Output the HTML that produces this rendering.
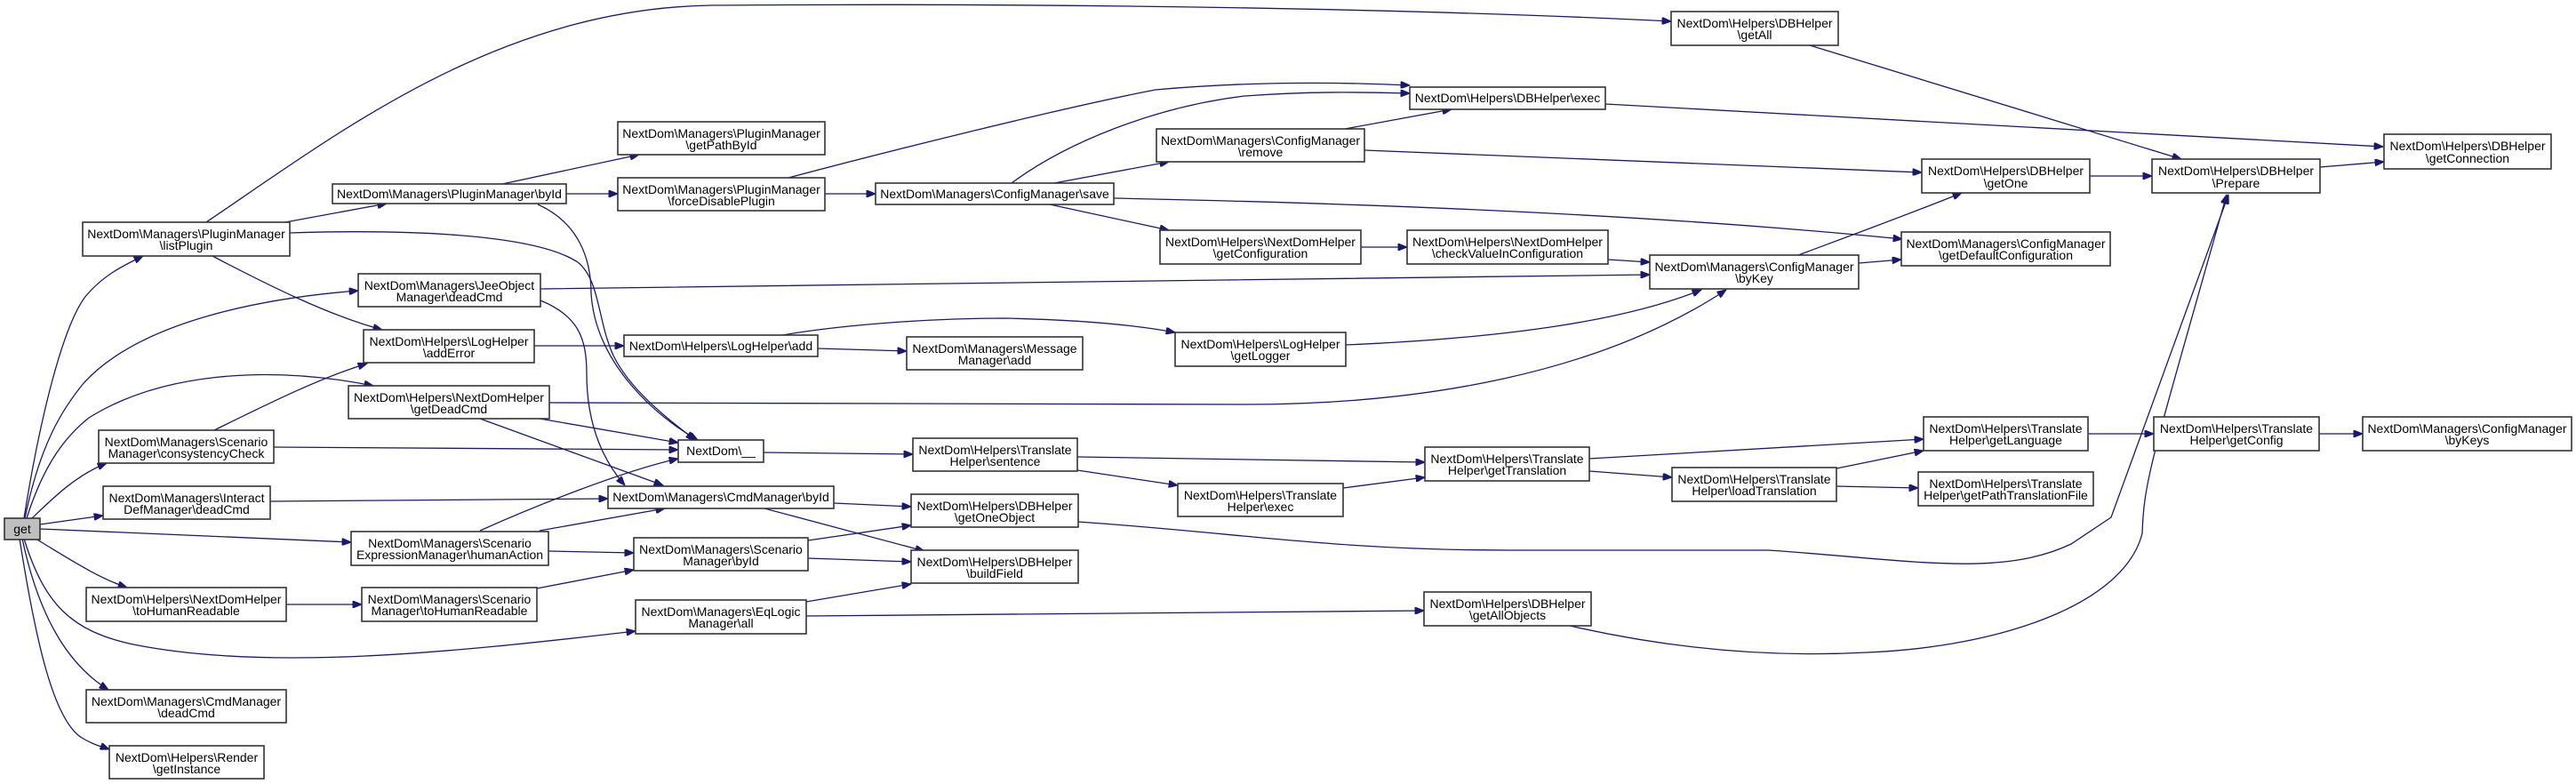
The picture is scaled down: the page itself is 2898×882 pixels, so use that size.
<!DOCTYPE html>
<html><head><meta charset="utf-8"><style>
html,body{margin:0;padding:0;background:#fff;}
svg{display:block;}
text{font-family:"Liberation Sans",Arial,sans-serif;font-size:14px;fill:#000;text-anchor:middle;}
.b{fill:#fff;stroke:#333;stroke-width:1.6;}
.e{fill:none;stroke:#191970;stroke-width:1.3;}
</style></head><body>
<svg width="2898" height="882" viewBox="0 0 2898 882" xmlns="http://www.w3.org/2000/svg">
<defs><marker id="a" viewBox="0 0 10 8" refX="10" refY="4" markerWidth="11" markerHeight="8" markerUnits="userSpaceOnUse" orient="auto"><path d="M0,0 L10,4 L0,8 Z" fill="#191970" stroke="#191970"/></marker></defs>
<g class="edges" marker-end="url(#a)">
<path class="e" marker-end="url(#a)" d="M27,583 C45,470 70,370 95,335 C115,310 140,298 161,288"/>
<path class="e" marker-end="url(#a)" d="M28,583 C45,500 70,460 95,430 C160,360 300,335 403,327"/>
<path class="e" marker-end="url(#a)" d="M30,583 C50,520 75,490 100,470 C180,420 300,410 420,434"/>
<path class="e" marker-end="url(#a)" d="M36,583 C60,560 85,535 120,521"/>
<path class="e" marker-end="url(#a)" d="M45,590 L116,580"/>
<path class="e" marker-end="url(#a)" d="M45,595 L395,610"/>
<path class="e" marker-end="url(#a)" d="M40,606 C80,630 110,650 143,661"/>
<path class="e" marker-end="url(#a)" d="M27,606 C50,680 80,710 150,725 C300,755 500,735 715,710"/>
<path class="e" marker-end="url(#a)" d="M25,606 C45,700 80,750 122,776"/>
<path class="e" marker-end="url(#a)" d="M22,606 C40,720 60,810 92,830 C105,838 115,840 123,843"/>
<path class="e" marker-end="url(#a)" d="M232,250 C380,150 560,10 800,6 C1200,3 1600,10 1880,24"/>
<path class="e" marker-end="url(#a)" d="M321,250 L435,229"/>
<path class="e" marker-end="url(#a)" d="M326,262 C450,258 600,262 650,295 C675,315 672,360 690,400 C710,440 750,470 782,495"/>
<path class="e" marker-end="url(#a)" d="M239,288 C300,320 370,355 430,371"/>
<path class="e" marker-end="url(#a)" d="M565,207 L719,174"/>
<path class="e" marker-end="url(#a)" d="M637,218 L695,218"/>
<path class="e" marker-end="url(#a)" d="M605,230 C650,250 665,290 665,330 C670,410 740,470 785,495"/>
<path class="e" marker-end="url(#a)" d="M928,218 L985,218"/>
<path class="e" marker-end="url(#a)" d="M887,200 C1000,170 1200,120 1300,101 C1400,92 1500,92 1586,96"/>
<path class="e" marker-end="url(#a)" d="M1138,206 C1200,160 1300,120 1400,108 C1480,102 1540,104 1586,105"/>
<path class="e" marker-end="url(#a)" d="M1186,206 L1315,182"/>
<path class="e" marker-end="url(#a)" d="M1181,230 L1315,259"/>
<path class="e" marker-end="url(#a)" d="M1253,223 C1600,230 1900,245 2140,269"/>
<path class="e" marker-end="url(#a)" d="M1513,145 L1633,123"/>
<path class="e" marker-end="url(#a)" d="M1535,169 L2162,194"/>
<path class="e" marker-end="url(#a)" d="M1806,117 L2681,165"/>
<path class="e" marker-end="url(#a)" d="M2036,51 L2454,179"/>
<path class="e" marker-end="url(#a)" d="M2351,198 L2421,198"/>
<path class="e" marker-end="url(#a)" d="M2610,188 L2682,182"/>
<path class="e" marker-end="url(#a)" d="M1531,278 L1583,278"/>
<path class="e" marker-end="url(#a)" d="M1809,292 L1856,295"/>
<path class="e" marker-end="url(#a)" d="M2023,287 C2090,262 2150,240 2207,217"/>
<path class="e" marker-end="url(#a)" d="M2091,296 L2139,292"/>
<path class="e" marker-end="url(#a)" d="M608,325 C1000,320 1500,313 1856,309"/>
<path class="e" marker-end="url(#a)" d="M608,338 C650,355 660,380 660,420 C660,480 680,520 703,546"/>
<path class="e" marker-end="url(#a)" d="M601,389 L702,389"/>
<path class="e" marker-end="url(#a)" d="M920,392 L1020,395"/>
<path class="e" marker-end="url(#a)" d="M880,377 C950,365 1050,358 1130,358 C1220,360 1280,366 1322,374"/>
<path class="e" marker-end="url(#a)" d="M1514,388 C1700,380 1830,360 1914,326"/>
<path class="e" marker-end="url(#a)" d="M618,453 L1400,455 C1600,455 1800,420 1942,326"/>
<path class="e" marker-end="url(#a)" d="M607,471 L763,498"/>
<path class="e" marker-end="url(#a)" d="M540,471 C620,500 690,525 746,546"/>
<path class="e" marker-end="url(#a)" d="M241,484 C300,455 360,425 413,409"/>
<path class="e" marker-end="url(#a)" d="M308,503 L763,506"/>
<path class="e" marker-end="url(#a)" d="M304,564 L684,561"/>
<path class="e" marker-end="url(#a)" d="M540,597 C600,570 700,530 763,516"/>
<path class="e" marker-end="url(#a)" d="M607,597 L748,572"/>
<path class="e" marker-end="url(#a)" d="M617,620 L713,622"/>
<path class="e" marker-end="url(#a)" d="M322,680 L407,680"/>
<path class="e" marker-end="url(#a)" d="M604,662 L713,641"/>
<path class="e" marker-end="url(#a)" d="M859,509 L1027,511"/>
<path class="e" marker-end="url(#a)" d="M1212,514 L1603,520"/>
<path class="e" marker-end="url(#a)" d="M1212,529 L1325,546"/>
<path class="e" marker-end="url(#a)" d="M1511,549 L1603,537"/>
<path class="e" marker-end="url(#a)" d="M1788,516 L2164,494"/>
<path class="e" marker-end="url(#a)" d="M1788,530 L1881,537"/>
<path class="e" marker-end="url(#a)" d="M2066,527 L2164,507"/>
<path class="e" marker-end="url(#a)" d="M2066,547 L2158,549"/>
<path class="e" marker-end="url(#a)" d="M2349,488 L2423,488"/>
<path class="e" marker-end="url(#a)" d="M2609,488 L2658,488"/>
<path class="e" marker-end="url(#a)" d="M938,566 L1025,570"/>
<path class="e" marker-end="url(#a)" d="M860,572 L1040,620"/>
<path class="e" marker-end="url(#a)" d="M909,608 L1025,591"/>
<path class="e" marker-end="url(#a)" d="M909,628 L1025,632"/>
<path class="e" marker-end="url(#a)" d="M1213,587 C1400,600 1500,619 1700,619 L1990,619 C2150,630 2250,650 2330,612 L2375,582 L2507,219"/>
<path class="e" marker-end="url(#a)" d="M1766,704 C1880,730 1990,740 2100,734 C2250,728 2390,680 2410,600 C2412,540 2420,520 2505,219"/>
<path class="e" marker-end="url(#a)" d="M907,677 L1025,657"/>
<path class="e" marker-end="url(#a)" d="M907,693 L1602,687"/>
</g>
<g>
<rect x="5" y="583" width="40" height="24" fill="#bfbfbf" stroke="#333" stroke-width="1.6"/><text x="25" y="600">get</text>

<rect class="b" x="93" y="250" width="233" height="38"/><text x="209.5" y="268">NextDom\Managers\PluginManager</text><text x="209.5" y="281">\listPlugin</text>
<rect class="b" x="374" y="207" width="263" height="22"/><text x="505.5" y="223">NextDom\Managers\PluginManager\byId</text>
<rect class="b" x="403" y="308" width="205" height="37"/><text x="505.5" y="326">NextDom\Managers\JeeObject</text><text x="505.5" y="339">Manager\deadCmd</text>
<rect class="b" x="409" y="371" width="192" height="37"/><text x="505" y="389">NextDom\Helpers\LogHelper</text><text x="505" y="402">\addError</text>
<rect class="b" x="392" y="434" width="226" height="37"/><text x="505" y="452">NextDom\Helpers\NextDomHelper</text><text x="505" y="465">\getDeadCmd</text>
<rect class="b" x="111" y="484" width="197" height="37"/><text x="209.5" y="502">NextDom\Managers\Scenario</text><text x="209.5" y="515">Manager\consystencyCheck</text>
<rect class="b" x="116" y="547" width="188" height="37"/><text x="210" y="565">NextDom\Managers\Interact</text><text x="210" y="578">DefManager\deadCmd</text>
<rect class="b" x="395" y="598" width="222" height="38"/><text x="506" y="616">NextDom\Managers\Scenario</text><text x="506" y="629">ExpressionManager\humanAction</text>
<rect class="b" x="97" y="661" width="225" height="38"/><text x="209.5" y="679">NextDom\Helpers\NextDomHelper</text><text x="209.5" y="692">\toHumanReadable</text>
<rect class="b" x="407" y="661" width="197" height="38"/><text x="505.5" y="679">NextDom\Managers\Scenario</text><text x="505.5" y="692">Manager\toHumanReadable</text>
<rect class="b" x="97" y="776" width="225" height="37"/><text x="209.5" y="794">NextDom\Managers\CmdManager</text><text x="209.5" y="807">\deadCmd</text>
<rect class="b" x="123" y="839" width="174" height="37"/><text x="210" y="857">NextDom\Helpers\Render</text><text x="210" y="870">\getInstance</text>

<rect class="b" x="695" y="137" width="233" height="37"/><text x="811.5" y="155">NextDom\Managers\PluginManager</text><text x="811.5" y="168">\getPathById</text>
<rect class="b" x="695" y="200" width="233" height="37"/><text x="811.5" y="218">NextDom\Managers\PluginManager</text><text x="811.5" y="231">\forceDisablePlugin</text>
<rect class="b" x="985" y="206" width="268" height="24"/><text x="1119" y="223">NextDom\Managers\ConfigManager\save</text>
<rect class="b" x="702" y="377" width="218" height="24"/><text x="811" y="394">NextDom\Helpers\LogHelper\add</text>
<rect class="b" x="1020" y="379" width="198" height="37"/><text x="1119" y="397">NextDom\Managers\Message</text><text x="1119" y="410">Manager\add</text>
<rect class="b" x="763" y="495" width="96" height="25"/><text x="811" y="512">NextDom\__</text>
<rect class="b" x="1027" y="493" width="185" height="37"/><text x="1119.5" y="511">NextDom\Helpers\Translate</text><text x="1119.5" y="524">Helper\sentence</text>
<rect class="b" x="684" y="547" width="254" height="25"/><text x="811" y="564">NextDom\Managers\CmdManager\byId</text>
<rect class="b" x="1025" y="556" width="188" height="37"/><text x="1119" y="574">NextDom\Helpers\DBHelper</text><text x="1119" y="587">\getOneObject</text>
<rect class="b" x="713" y="605" width="196" height="37"/><text x="811" y="623">NextDom\Managers\Scenario</text><text x="811" y="636">Manager\byId</text>
<rect class="b" x="1025" y="619" width="188" height="37"/><text x="1119" y="637">NextDom\Helpers\DBHelper</text><text x="1119" y="650">\buildField</text>
<rect class="b" x="715" y="675" width="192" height="38"/><text x="811" y="693">NextDom\Managers\EqLogic</text><text x="811" y="706">Manager\all</text>

<rect class="b" x="1880" y="13" width="188" height="38"/><text x="1974" y="31">NextDom\Helpers\DBHelper</text><text x="1974" y="44">\getAll</text>
<rect class="b" x="1586" y="98" width="220" height="25"/><text x="1696" y="115">NextDom\Helpers\DBHelper\exec</text>
<rect class="b" x="1301" y="145" width="234" height="37"/><text x="1418" y="163">NextDom\Managers\ConfigManager</text><text x="1418" y="176">\remove</text>
<rect class="b" x="1305" y="259" width="226" height="38"/><text x="1418" y="277">NextDom\Helpers\NextDomHelper</text><text x="1418" y="290">\getConfiguration</text>
<rect class="b" x="1583" y="259" width="226" height="38"/><text x="1696" y="277">NextDom\Helpers\NextDomHelper</text><text x="1696" y="290">\checkValueInConfiguration</text>
<rect class="b" x="1856" y="287" width="235" height="38"/><text x="1973.5" y="305">NextDom\Managers\ConfigManager</text><text x="1973.5" y="318">\byKey</text>
<rect class="b" x="1322" y="374" width="192" height="38"/><text x="1418" y="392">NextDom\Helpers\LogHelper</text><text x="1418" y="405">\getLogger</text>
<rect class="b" x="1603" y="503" width="185" height="38"/><text x="1695.5" y="521">NextDom\Helpers\Translate</text><text x="1695.5" y="534">Helper\getTranslation</text>
<rect class="b" x="1325" y="544" width="186" height="37"/><text x="1418" y="562">NextDom\Helpers\Translate</text><text x="1418" y="575">Helper\exec</text>
<rect class="b" x="1881" y="526" width="185" height="38"/><text x="1973.5" y="544">NextDom\Helpers\Translate</text><text x="1973.5" y="557">Helper\loadTranslation</text>
<rect class="b" x="1602" y="666" width="188" height="38"/><text x="1696" y="684">NextDom\Helpers\DBHelper</text><text x="1696" y="697">\getAllObjects</text>

<rect class="b" x="2682" y="151" width="188" height="39"/><text x="2776" y="169">NextDom\Helpers\DBHelper</text><text x="2776" y="183">\getConnection</text>
<rect class="b" x="2162" y="179" width="189" height="38"/><text x="2256.5" y="197">NextDom\Helpers\DBHelper</text><text x="2256.5" y="211">\getOne</text>
<rect class="b" x="2421" y="179" width="189" height="38"/><text x="2515.5" y="197">NextDom\Helpers\DBHelper</text><text x="2515.5" y="211">\Prepare</text>
<rect class="b" x="2139" y="261" width="235" height="38"/><text x="2256.5" y="279">NextDom\Managers\ConfigManager</text><text x="2256.5" y="292">\getDefaultConfiguration</text>
<rect class="b" x="2164" y="469" width="185" height="38"/><text x="2256.5" y="487">NextDom\Helpers\Translate</text><text x="2256.5" y="500">Helper\getLanguage</text>
<rect class="b" x="2158" y="531" width="197" height="38"/><text x="2256.5" y="549">NextDom\Helpers\Translate</text><text x="2256.5" y="562">Helper\getPathTranslationFile</text>
<rect class="b" x="2423" y="469" width="186" height="38"/><text x="2516" y="487">NextDom\Helpers\Translate</text><text x="2516" y="500">Helper\getConfig</text>
<rect class="b" x="2658" y="469" width="235" height="38"/><text x="2775.5" y="487">NextDom\Managers\ConfigManager</text><text x="2775.5" y="500">\byKeys</text>
</g>
</svg>
</body></html>
